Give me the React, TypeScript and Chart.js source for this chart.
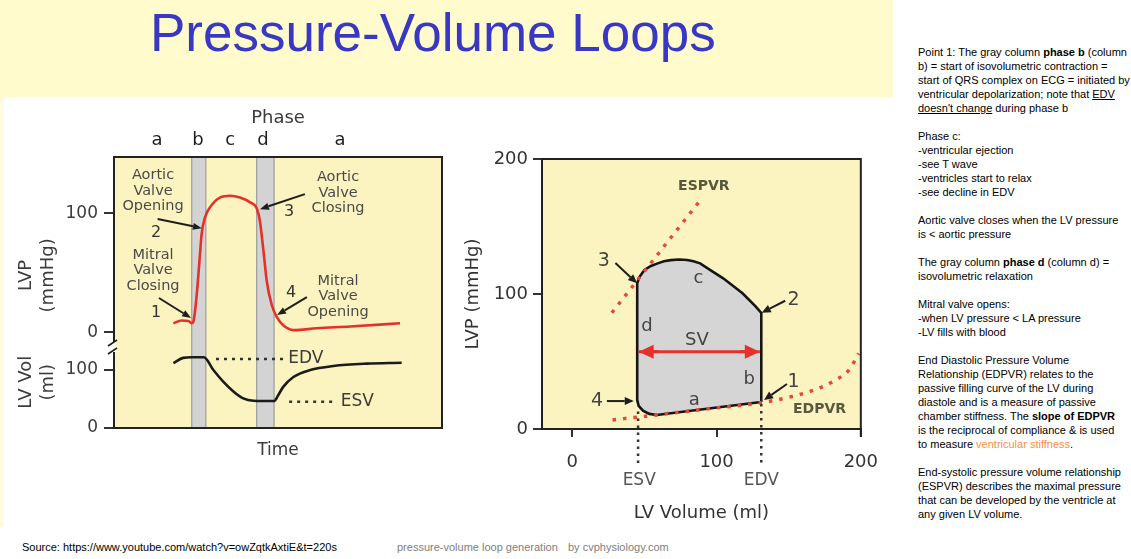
import React, { useEffect, useRef } from 'react';
import { Chart, registerables } from 'chart.js';

Chart.register(...registerables);

const FONT = "'DejaVu Sans', 'Liberation Sans', sans-serif";
const ARIAL = "'Liberation Sans', Arial, sans-serif";
const PLOT_BG = '#fcf4c0';
const RED = '#e5312b';
const INK = '#3c3c3c';

// ---------- Left chart: LVP and LV volume over time ----------
const phaseLabels = ['a', 'b', 'c', 'd', 'a'];
const phaseCenters = [13.1, 25.6, 35.4, 45.4, 68.9];
const phaseBColumn = [23.7, 28.0];
const phaseDColumn = [43.5, 48.8];
const lvpTime = [18.1, 20.6, 22.7, 23.7, 24.2, 25.2, 26.2, 26.7, 27.7, 29.3, 32.3, 35.4, 38.4, 41.5, 43.5, 44.5, 45.5, 46.6, 48.1, 49.6, 51.6, 54.7, 61.8, 72.0, 87.2];
const lvpValues = [7.7, 10, 9.6, 7.7, 9, 31, 65, 82, 96, 105, 113, 114.5, 113, 109, 104, 93, 70, 42.5, 23, 13, 6, 2, 3.5, 5, 7.7];
const volTime = [18.1, 21.1, 23.7, 27.4, 30.3, 33.3, 36.4, 39.4, 42.5, 48.8, 50.1, 51.6, 54.7, 59.8, 66.9, 77.0, 87.7];
const volValues = [112, 121, 122, 122, 100, 80, 63, 51, 47, 46.5, 57, 71, 88, 100, 107, 111, 112.5];
const edvLineTime = [31.1, 51.6];
const edvLineLevel = 119;
const esvLineTime = [53.4, 67.9];
const esvLineLevel = 45.4;
const lvpTickValues = [0, 100];
const volTickValues = [0, 100];

// ---------- Right chart: pressure-volume loop ----------
const ESV = 45;
const EDV = 131;
const loopVolume = [131, 131, 127.2, 118, 104.6, 96, 88.6, 84, 79.6, 74, 68.2, 63.5, 59.2, 54.5, 50, 46.5, 45, 45, 46, 49, 53.4, 58.6, 131];
const loopPressure = [20, 86, 90.6, 100.5, 111.6, 117.5, 122.7, 124.2, 125.2, 125.5, 125.1, 124.2, 122.7, 120.8, 117.8, 112.5, 108, 21.4, 17.2, 13.6, 11.2, 10.4, 20];
const espvrVolume = [27.4, 89.8];
const espvrPressure = [86.1, 170.9];
const edpvrVolume = [27.9, 45, 60, 90, 131, 150, 168, 182, 192, 198.5];
const edpvrPressure = [6.7, 8.8, 10.6, 14.5, 19.5, 23.5, 29, 36, 44, 56];
const svVolume = [46, 130];
const svPressure = [57.3, 57.3];
const pvTickValues = [0, 100, 200];

const pts = (xs: number[], ys: number[]) => xs.map((x, i) => ({ x, y: ys[i] }));

function drawArrow(ctx: CanvasRenderingContext2D, x1: number, y1: number, x2: number, y2: number, color: string, lw: number, hl: number, hw: number) {
  const ang = Math.atan2(y2 - y1, x2 - x1);
  const bx = x2 - hl * Math.cos(ang);
  const by = y2 - hl * Math.sin(ang);
  ctx.strokeStyle = color;
  ctx.lineWidth = lw;
  ctx.beginPath();
  ctx.moveTo(x1, y1);
  ctx.lineTo(bx, by);
  ctx.stroke();
  ctx.fillStyle = color;
  ctx.beginPath();
  ctx.moveTo(x2, y2);
  ctx.lineTo(bx + (hw / 2) * Math.sin(ang), by - (hw / 2) * Math.cos(ang));
  ctx.lineTo(bx - (hw / 2) * Math.sin(ang), by + (hw / 2) * Math.cos(ang));
  ctx.closePath();
  ctx.fill();
}

// annotation layout (in axis units)
const leftValveLabels = [
  { lines: ['Aortic', 'Valve', 'Opening'], t: 11.9, p: 118.5 },
  { lines: ['Mitral', 'Valve', 'Closing'], t: 11.9, p: 51.8 },
  { lines: ['Aortic', 'Valve', 'Closing'], t: 68.3, p: 117 },
  { lines: ['Mitral', 'Valve', 'Opening'], t: 68.3, p: 30 },
];
const leftPointLabels = [
  { text: '1', t: 12.8, p: 16.3 },
  { text: '2', t: 12.8, p: 83.3 },
  { text: '3', t: 53.4, p: 100.8 },
  { text: '4', t: 54.0, p: 33 },
];
const leftArrows = [
  { from: [13.3, 95], to: [26.8, 87.4] },
  { from: [13.7, 28.9], to: [23.5, 12.1] },
  { from: [58.2, 115.9], to: [44.5, 103.3] },
  { from: [58.8, 29.7], to: [49.7, 14.6] },
];

const leftDecor = {
  id: 'leftDecor',
  beforeDraw(chart: any) {
    const { ctx, chartArea: a, scales } = chart;
    ctx.save();
    ctx.fillStyle = PLOT_BG;
    ctx.fillRect(a.left, a.top, a.right - a.left, a.bottom - a.top);
    for (const [s, e] of [phaseBColumn, phaseDColumn]) {
      const x1 = scales.x.getPixelForValue(s);
      const x2 = scales.x.getPixelForValue(e);
      ctx.fillStyle = '#d3d3d3';
      ctx.fillRect(x1, a.top, x2 - x1, a.bottom - a.top);
      ctx.strokeStyle = '#9c9c9c';
      ctx.lineWidth = 1.2;
      ctx.beginPath();
      ctx.moveTo(x1, a.top); ctx.lineTo(x1, a.bottom);
      ctx.moveTo(x2, a.top); ctx.lineTo(x2, a.bottom);
      ctx.stroke();
    }
    ctx.restore();
  },
  afterDraw(chart: any) {
    const { ctx, chartArea: a, scales } = chart;
    const X = (v: number) => scales.x.getPixelForValue(v);
    const P = (v: number) => scales.yP.getPixelForValue(v);
    const V = (v: number) => scales.yV.getPixelForValue(v);
    ctx.save();
    // right border
    ctx.strokeStyle = '#222';
    ctx.lineWidth = 2;
    ctx.beginPath();
    ctx.moveTo(a.right, a.top - 1);
    ctx.lineTo(a.right, a.bottom + 1);
    ctx.stroke();
    // axis break mark
    const by = scales.yV.top;
    ctx.fillStyle = '#ffffff';
    ctx.fillRect(a.left - 3, by - 6, 5, 10);
    ctx.strokeStyle = '#222';
    ctx.lineWidth = 1.6;
    ctx.beginPath();
    ctx.moveTo(a.left - 6, by - 2); ctx.lineTo(a.left + 3, by - 8);
    ctx.moveTo(a.left - 6, by + 6); ctx.lineTo(a.left + 3, by);
    ctx.stroke();
    // valve labels
    ctx.fillStyle = '#4a4a4a';
    ctx.font = `14.5px ${FONT}`;
    ctx.textAlign = 'center';
    ctx.textBaseline = 'middle';
    for (const l of leftValveLabels) {
      l.lines.forEach((s, i) => ctx.fillText(s, X(l.t), P(l.p) + (i - 1) * 15.5));
    }
    ctx.fillStyle = '#333';
    ctx.font = `16px ${FONT}`;
    for (const l of leftPointLabels) ctx.fillText(l.text, X(l.t), P(l.p));
    for (const ar of leftArrows) {
      drawArrow(ctx, X(ar.from[0]), P(ar.from[1]), X(ar.to[0]), P(ar.to[1]), '#1e1e1e', 2, 9, 7);
    }
    // EDV / ESV labels
    ctx.fillStyle = INK;
    ctx.font = `17px ${FONT}`;
    ctx.textAlign = 'left';
    ctx.fillText('EDV', X(53.1), V(edvLineLevel));
    ctx.fillText('ESV', X(69.1), V(esvLineLevel));
    ctx.restore();
  },
};

// right annotations (in axis units: volume, pressure)
const pvTextLabels = [
  { text: 'c', v: 87.5, p: 111.6 },
  { text: 'd', v: 51.7, p: 75.8 },
  { text: 'SV', v: 86.4, p: 65.4 },
  { text: 'b', v: 122.7, p: 36.8 },
  { text: 'a', v: 84.6, p: 21.5 },
];
const pvNumLabels = [
  { text: '3', v: 21.8, p: 124.4 },
  { text: '2', v: 153.3, p: 95.6 },
  { text: '1', v: 153.3, p: 35 },
  { text: '4', v: 17.2, p: 20.7 },
];
const pvArrows = [
  { from: [29.9, 123], to: [44.9, 107.9] },
  { from: [147.6, 95], to: [131.3, 86.1] },
  { from: [148.8, 33.3], to: [132.9, 21.5] },
  { from: [24, 20.7], to: [42.6, 20.7] },
];

const rightDecor = {
  id: 'rightDecor',
  beforeDraw(chart: any) {
    const { ctx, chartArea: a } = chart;
    ctx.save();
    ctx.fillStyle = PLOT_BG;
    ctx.fillRect(a.left, a.top, a.right - a.left, a.bottom - a.top);
    ctx.restore();
  },
  afterDraw(chart: any) {
    const { ctx, chartArea: a, scales } = chart;
    const X = (v: number) => scales.x.getPixelForValue(v);
    const Y = (v: number) => scales.y.getPixelForValue(v);
    ctx.save();
    ctx.strokeStyle = '#222';
    ctx.lineWidth = 2;
    ctx.beginPath();
    ctx.moveTo(a.left - 1, a.top);
    ctx.lineTo(a.right, a.top);
    ctx.lineTo(a.right, a.bottom + 8);
    ctx.stroke();
    // dotted ESV/EDV markers
    ctx.setLineDash([2.5, 4.5]);
    ctx.lineWidth = 2.5;
    ctx.strokeStyle = '#333';
    for (const [v, p] of [[ESV + 0.6, 13], [EDV, 18.5]]) {
      ctx.beginPath();
      ctx.moveTo(X(v), Y(p));
      ctx.lineTo(X(v), a.bottom + 38);
      ctx.stroke();
    }
    ctx.setLineDash([]);
    ctx.fillStyle = '#555';
    ctx.font = `17px ${FONT}`;
    ctx.textAlign = 'center';
    ctx.textBaseline = 'middle';
    ctx.fillText('ESV', X(ESV) + 2, a.bottom + 52);
    ctx.fillText('EDV', X(EDV), a.bottom + 52);
    // curve names
    ctx.fillStyle = '#58583c';
    ctx.font = `bold 14px ${FONT}`;
    ctx.fillText('ESPVR', X(91.2), Y(180));
    ctx.fillText('EDPVR', X(171.4), Y(14.6));
    // phase letters
    ctx.fillStyle = '#444';
    ctx.font = `18px ${FONT}`;
    for (const l of pvTextLabels) ctx.fillText(l.text, X(l.v), Y(l.p));
    ctx.font = `19px ${FONT}`;
    for (const l of pvNumLabels) ctx.fillText(l.text, X(l.v), Y(l.p));
    for (const ar of pvArrows) {
      drawArrow(ctx, X(ar.from[0]), Y(ar.from[1]), X(ar.to[0]), Y(ar.to[1]), '#1e1e1e', 2, 9, 8);
    }
    // SV arrowheads
    const sy = Y(svPressure[0]);
    drawArrow(ctx, X(svVolume[0]) + 20, sy, X(svVolume[0]), sy, RED, 3, 15, 14);
    drawArrow(ctx, X(svVolume[1]) - 20, sy, X(svVolume[1]), sy, RED, 3, 15, 14);
    ctx.restore();
  },
};

function LeftChart() {
  const ref = useRef<HTMLCanvasElement>(null);
  useEffect(() => {
    const tickFont = { family: FONT, size: 17 };
    const chart = new Chart(ref.current as HTMLCanvasElement, {
      type: 'line',
      data: {
        datasets: [
          { label: 'LVP', data: pts(lvpTime, lvpValues), xAxisID: 'x', yAxisID: 'yP', borderColor: RED, borderWidth: 2.6, pointRadius: 0, cubicInterpolationMode: 'monotone', fill: false },
          { label: 'LV Vol', data: pts(volTime, volValues), xAxisID: 'x', yAxisID: 'yV', borderColor: '#1b1b1b', borderWidth: 2.6, pointRadius: 0, cubicInterpolationMode: 'monotone', fill: false },
          { label: 'EDV', data: pts(edvLineTime, [edvLineLevel, edvLineLevel]), xAxisID: 'x', yAxisID: 'yV', borderColor: '#333', borderWidth: 2.5, borderDash: [3, 5], pointRadius: 0, fill: false },
          { label: 'ESV', data: pts(esvLineTime, [esvLineLevel, esvLineLevel]), xAxisID: 'x', yAxisID: 'yV', borderColor: '#333', borderWidth: 2.5, borderDash: [3, 5], pointRadius: 0, fill: false },
        ],
      } as any,
      options: {
        responsive: false,
        animation: false,
        devicePixelRatio: 1,
        layout: { padding: { left: 0, right: 18, top: 0, bottom: 67 } },
        plugins: { legend: { display: false }, tooltip: { enabled: false } },
        scales: {
          x: {
            type: 'linear', position: 'bottom', min: 0, max: 100,
            afterFit: (s: any) => { s.height = 35; },
            ticks: { display: false },
            grid: { display: false, drawTicks: false },
            border: { display: true, color: '#222', width: 2 },
            title: { display: true, text: 'Time', font: { family: FONT, size: 17 }, color: INK, padding: { top: 0, bottom: 2 } },
          },
          xPhase: {
            type: 'linear', position: 'top', min: 0, max: 100,
            afterBuildTicks: (s: any) => { s.ticks = phaseCenters.map((v) => ({ value: v })); },
            afterFit: (s: any) => { s.height = 60; },
            ticks: { callback: (_v: any, i: number) => phaseLabels[i], font: { family: FONT, size: 18 }, color: '#1e1e1e', padding: 6, autoSkip: false, maxRotation: 0 },
            grid: { display: false, drawTicks: false },
            border: { display: true, color: '#222', width: 2 },
            title: { display: true, text: 'Phase', font: { family: FONT, size: 18 }, color: INK, padding: { top: 11, bottom: 0 } },
          },
          yP: {
            type: 'linear', position: 'left', stack: 'lv', stackWeight: 191, weight: 2, min: -13, max: 147,
            afterBuildTicks: (s: any) => { s.ticks = lvpTickValues.map((v) => ({ value: v })); },
            afterFit: (s: any) => { s.width = 114; },
            ticks: { font: tickFont, color: INK, padding: 6 },
            grid: { display: true, drawOnChartArea: false, drawTicks: true, tickLength: 10, color: '#333', lineWidth: 2 },
            border: { display: true, color: '#222', width: 2 },
            title: { display: true, text: ['LVP        ', '(mmHg)        '], font: { family: FONT, size: 18 }, color: INK, padding: { top: 16, bottom: 0 } },
          },
          yV: {
            type: 'linear', position: 'left', stack: 'lv', stackWeight: 80, weight: 1, min: 0, max: 138,
            afterBuildTicks: (s: any) => { s.ticks = volTickValues.map((v) => ({ value: v })); },
            afterFit: (s: any) => { s.width = 114; },
            ticks: { font: tickFont, color: INK, padding: 6 },
            grid: { display: true, drawOnChartArea: false, drawTicks: true, tickLength: 10, color: '#333', lineWidth: 2 },
            border: { display: true, color: '#222', width: 2 },
            title: { display: true, text: ['  LV Vol', '  (ml)'], font: { family: FONT, size: 18 }, color: INK, padding: { top: 16, bottom: 0 } },
          },
        },
      } as any,
      plugins: [leftDecor as any],
    });
    return () => chart.destroy();
  }, []);
  return <canvas ref={ref} width={460} height={433} style={{ position: 'absolute', left: 0, top: 97, width: 460, height: 433 }} />;
}

function RightChart() {
  const ref = useRef<HTMLCanvasElement>(null);
  useEffect(() => {
    const tickFont = { family: FONT, size: 18 };
    const chart = new Chart(ref.current as HTMLCanvasElement, {
      type: 'line',
      data: {
        datasets: [
          { label: 'SV', data: pts(svVolume, svPressure), borderColor: RED, borderWidth: 3, pointRadius: 0, fill: false, order: 1 },
          { label: 'EDPVR', data: pts(edpvrVolume, edpvrPressure), borderColor: '#e8463a', borderWidth: 3.5, borderDash: [3.5, 7], pointRadius: 0, cubicInterpolationMode: 'monotone', fill: false, order: 2 },
          { label: 'ESPVR', data: pts(espvrVolume, espvrPressure), borderColor: '#e8463a', borderWidth: 3.5, borderDash: [3.5, 7], pointRadius: 0, fill: false, order: 3 },
          { label: 'PV loop', data: pts(loopVolume, loopPressure), borderColor: '#151515', borderWidth: 2.6, backgroundColor: '#d5d5d5', pointRadius: 0, tension: 0, fill: 'shape', order: 10 },
        ],
      } as any,
      options: {
        responsive: false,
        animation: false,
        devicePixelRatio: 1,
        layout: { padding: { left: 0, right: 24, top: 62, bottom: 0 } },
        plugins: { legend: { display: false }, tooltip: { enabled: false } },
        scales: {
          x: {
            type: 'linear', position: 'bottom', min: -21, max: 200,
            afterBuildTicks: (s: any) => { s.ticks = pvTickValues.map((v) => ({ value: v })); },
            afterFit: (s: any) => { s.height = 101; },
            ticks: { font: tickFont, color: '#333', padding: 15, maxRotation: 0 },
            grid: { display: true, drawOnChartArea: false, drawTicks: true, tickLength: 8, color: '#333', lineWidth: 2 },
            border: { display: true, color: '#222', width: 2 },
            title: { display: true, text: 'LV Volume (ml)', font: { family: FONT, size: 18 }, color: '#333', padding: { top: 0, bottom: 6 } },
          },
          y: {
            type: 'linear', position: 'left', min: 0, max: 200,
            afterBuildTicks: (s: any) => { s.ticks = pvTickValues.map((v) => ({ value: v })); },
            afterFit: (s: any) => { s.width = 82; },
            ticks: { font: tickFont, color: '#333', padding: 5 },
            grid: { display: true, drawOnChartArea: false, drawTicks: true, tickLength: 9, color: '#333', lineWidth: 2 },
            border: { display: true, color: '#222', width: 2 },
            title: { display: true, text: 'LVP (mmHg)', font: { family: FONT, size: 18 }, color: '#333', padding: { top: 3, bottom: 0 } },
          },
        },
      } as any,
      plugins: [rightDecor as any],
    });
    return () => chart.destroy();
  }, []);
  return <canvas ref={ref} width={433} height={433} style={{ position: 'absolute', left: 460, top: 97, width: 433, height: 433 }} />;
}

const B = (s: string) => <b>{s}</b>;

export default function App() {
  const line = (content: React.ReactNode, key: number) => (
    <div key={key} style={{ height: 14, whiteSpace: 'pre' }}>{content}</div>
  );
  const notes: React.ReactNode[] = [
    <>Point 1: The gray column {B('phase b')} (column</>,
    'b) = start of isovolumetric contraction =',
    'start of QRS complex on ECG = initiated by',
    <>ventricular depolarization; note that <u>EDV</u></>,
    <><u>doesn't change</u> during phase b</>,
    '',
    'Phase c:',
    '-ventricular ejection',
    '-see T wave',
    '-ventricles start to relax',
    '-see decline in EDV',
    '',
    'Aortic valve closes when the LV pressure',
    'is < aortic pressure',
    '',
    <>The gray column {B('phase d')} (column d) =</>,
    'isovolumetric relaxation',
    '',
    'Mitral valve opens:',
    '-when LV pressure < LA pressure',
    '-LV fills with blood',
    '',
    'End Diastolic Pressure Volume',
    'Relationship (EDPVR) relates to the',
    'passive filling curve of the LV during',
    'diastole and is a measure of passive',
    <>chamber stiffness. The {B('slope of EDPVR')}</>,
    'is the reciprocal of compliance & is used',
    <>to measure <span style={{ color: '#f7923a' }}>ventricular stiffness</span>.</>,
    '',
    'End-systolic pressure volume relationship',
    '(ESPVR) describes the maximal pressure',
    'that can be developed by the ventricle at',
    'any given LV volume.',
  ];
  return (
    <div style={{ position: 'absolute', left: 0, top: 0, width: 1131, height: 559, background: '#ffffff', overflow: 'hidden', fontFamily: ARIAL }}>
      <div style={{ position: 'absolute', left: 0, top: 0, width: 893, height: 97, background: '#fffbcd' }} />
      <div style={{ position: 'absolute', left: 150, top: 3, fontSize: 53, lineHeight: '60px', color: '#3838c4', whiteSpace: 'nowrap' }}>Pressure-Volume Loops</div>
      <div style={{ position: 'absolute', left: 0, top: 97, width: 4, height: 430, background: '#fffbe0' }} />
      <LeftChart />
      <RightChart />
      <div style={{ position: 'absolute', left: 918, top: 45, fontSize: 11, lineHeight: '14px', color: '#000' }}>
        {notes.map((n, i) => line(n === '' ? '\u00a0' : n, i))}
      </div>
      <div style={{ position: 'absolute', left: 22, top: 540, fontSize: 11, lineHeight: '14px', color: '#000', whiteSpace: 'nowrap' }}>Source: https://www.youtube.com/watch?v=owZqtkAxtiE&t=220s</div>
      <div style={{ position: 'absolute', left: 397, top: 540, fontSize: 11, lineHeight: '14px', color: '#808080', whiteSpace: 'nowrap' }}>pressure-volume loop generation</div>
      <div style={{ position: 'absolute', left: 568, top: 540, fontSize: 11, lineHeight: '14px', color: '#808080', whiteSpace: 'nowrap' }}>by cvphysiology.com</div>
    </div>
  );
}
